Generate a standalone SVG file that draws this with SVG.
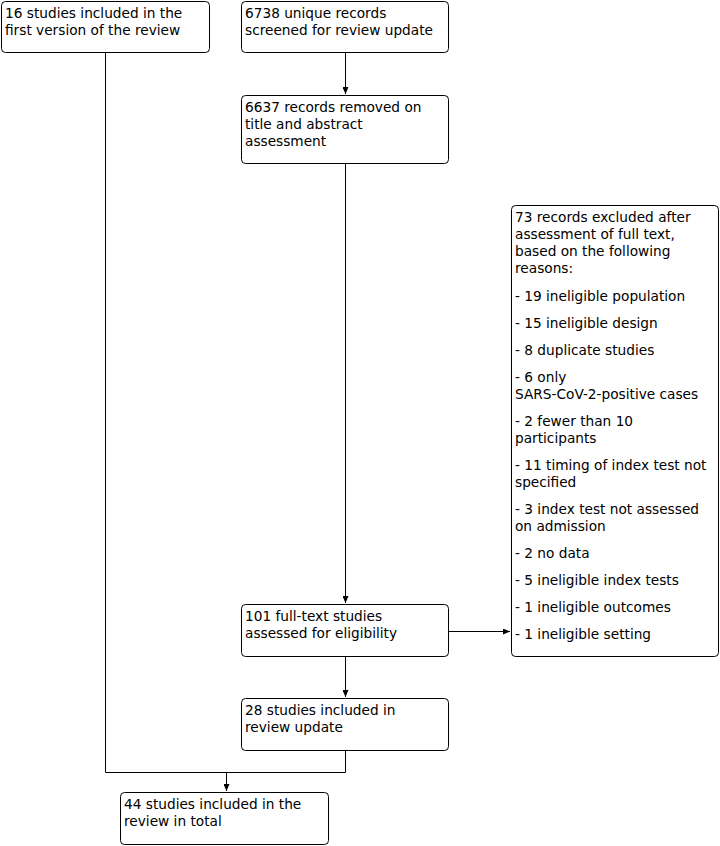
<svg xmlns="http://www.w3.org/2000/svg" width="720" height="846" viewBox="0 0 720 846">
<style>
.box{fill:#fff;stroke:#000;stroke-width:1}
text{font-family:"DejaVu Sans",Verdana,sans-serif;font-size:13.7px;fill:#000}
.c{fill:none;stroke:#000;stroke-width:1}
</style>
<defs>
<marker id="ah" markerWidth="7" markerHeight="6" refX="7" refY="3" orient="auto" markerUnits="userSpaceOnUse">
<path d="M0,0 L7,3 L0,6 Z" fill="#000"/>
</marker>
</defs>
<rect width="720" height="846" fill="#fff"/>
<g id="connectors">
<path class="c" d="M345.5,52 V94" marker-end="url(#ah)"/>
<path class="c" d="M345.5,163 V603" marker-end="url(#ah)"/>
<path class="c" d="M345.5,657 V697" marker-end="url(#ah)"/>
<path class="c" d="M449,631.5 H510" marker-end="url(#ah)"/>
<path class="c" d="M105.5,52 V772.5 H345.5 V751"/>
<path class="c" d="M226.5,772.5 V791" marker-end="url(#ah)"/>
</g>
<g id="n1"><rect class="box" x="1.5" y="1.5" width="208" height="51" rx="4"/>
<text x="5" y="18">16 studies included in the</text><text x="5" y="35">first version of the review</text></g>
<g id="n2"><rect class="box" x="241.5" y="1.5" width="207" height="51" rx="4"/>
<text x="245" y="18">6738 unique records</text><text x="245" y="35">screened for review update</text></g>
<g id="n3"><rect class="box" x="241.5" y="95.5" width="207" height="68" rx="4"/>
<text x="245" y="112">6637 records removed on</text><text x="245" y="129">title and abstract</text><text x="245" y="146">assessment</text></g>
<g id="n4"><rect class="box" x="511.5" y="205.5" width="207" height="451" rx="4"/>
<text x="515" y="222">73 records excluded after</text>
<text x="515" y="239">assessment of full text,</text>
<text x="515" y="256">based on the following</text>
<text x="515" y="273">reasons:</text>
<text x="515" y="301">- 19 ineligible population</text>
<text x="515" y="328">- 15 ineligible design</text>
<text x="515" y="355">- 8 duplicate studies</text>
<text x="515" y="382">- 6 only</text>
<text x="515" y="399">SARS-CoV-2-positive cases</text>
<text x="515" y="426">- 2 fewer than 10</text>
<text x="515" y="443">participants</text>
<text x="515" y="470">- 11 timing of index test not</text>
<text x="515" y="487">specified</text>
<text x="515" y="514">- 3 index test not assessed</text>
<text x="515" y="531">on admission</text>
<text x="515" y="558">- 2 no data</text>
<text x="515" y="585">- 5 ineligible index tests</text>
<text x="515" y="612">- 1 ineligible outcomes</text>
<text x="515" y="639">- 1 ineligible setting</text></g>
<g id="n5"><rect class="box" x="241.5" y="604.5" width="207" height="52" rx="4"/>
<text x="245" y="621">101 full-text studies</text><text x="245" y="638">assessed for eligibility</text></g>
<g id="n6"><rect class="box" x="241.5" y="698.5" width="207" height="52" rx="4"/>
<text x="245" y="715">28 studies included in</text><text x="245" y="732">review update</text></g>
<g id="n7"><rect class="box" x="120.5" y="792.5" width="208" height="52" rx="4"/>
<text x="124" y="809">44 studies included in the</text><text x="124" y="826">review in total</text></g>
</svg>
